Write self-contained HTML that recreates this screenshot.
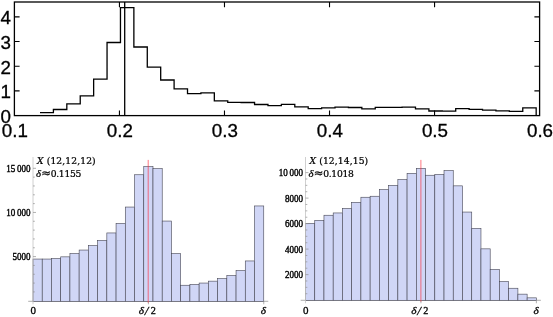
<!DOCTYPE html>
<html><head><meta charset="utf-8"><title>Histograms</title>
<style>html,body{margin:0;padding:0;background:#fff}svg{display:block}</style></head>
<body><svg width="553" height="317" viewBox="0 0 553 317">
<rect width="553" height="317" fill="#fff"/>
<path d="M40.00,112.70 H53.41 V109.50 H66.82 V103.80 H80.23 V95.80 H93.64 V79.10 H107.05 V42.50 H120.46 V7.60 H133.87 V47.00 H147.28 V67.20 H160.69 V80.00 H174.10 V88.90 H187.51 V93.60 H200.92 V92.80 H214.33 V100.90 H227.74 V102.30 H241.15 V102.50 H254.56 V104.50 H267.97 V105.60 H281.38 V104.30 H294.79 V106.90 H308.20 V108.60 H321.61 V107.80 H335.02 V107.10 H348.43 V107.50 H361.84 V108.90 H375.25 V107.30 H388.66 V107.30 H402.07 V107.10 H415.48 V108.80 H428.89 V111.00 H442.30 V111.20 H455.71 V108.60 H469.12 V109.30 H482.53 V110.10 H495.94 V110.80 H509.35 V111.30 H522.76 V107.80 H536.17 V115.60" fill="none" stroke="#000" stroke-width="1.3" stroke-linejoin="miter"/>
<rect x="14.4" y="2.0" width="525.2" height="113.6" fill="none" stroke="#000" stroke-width="1.3"/>
<path d="M124.7,2.0 V115.6" stroke="#000" stroke-width="1.3" fill="none"/>
<path d="M119.44,115.6 v-5.2 M119.44,2.0 v5.2 M224.48,115.6 v-5.2 M224.48,2.0 v5.2 M329.52,115.6 v-5.2 M329.52,2.0 v5.2 M434.56,115.6 v-5.2 M434.56,2.0 v5.2 M14.4,90.92 h5.2 M539.6,90.92 h-5.2 M14.4,66.24 h5.2 M539.6,66.24 h-5.2 M14.4,41.56 h5.2 M539.6,41.56 h-5.2 M14.4,16.88 h5.2 M539.6,16.88 h-5.2" stroke="#000" stroke-width="1.1" fill="none"/>
<g font-family="'Liberation Sans', sans-serif" font-size="18.8" fill="#000" stroke="#000" stroke-width="0.3"><text x="14.80" y="137.4" text-anchor="middle">0.1</text><text x="119.84" y="137.4" text-anchor="middle">0.2</text><text x="224.88" y="137.4" text-anchor="middle">0.3</text><text x="329.92" y="137.4" text-anchor="middle">0.4</text><text x="434.96" y="137.4" text-anchor="middle">0.5</text><text x="540.00" y="137.4" text-anchor="middle">0.6</text><text x="11.0" y="123.20" text-anchor="end">0</text><text x="11.0" y="98.45" text-anchor="end">1</text><text x="11.0" y="73.70" text-anchor="end">2</text><text x="11.0" y="48.95" text-anchor="end">3</text><text x="11.0" y="24.20" text-anchor="end">4</text></g>
<path d="M28.20,301.3 H268.25" stroke="#9a9a9a" stroke-width="0.8" fill="none"/><rect x="33.00" y="259.05" width="9.23" height="42.25" fill="#d0d6f6" stroke="#484856" stroke-width="0.62"/><rect x="42.23" y="259.05" width="9.23" height="42.25" fill="#d0d6f6" stroke="#484856" stroke-width="0.62"/><rect x="51.46" y="258.55" width="9.23" height="42.75" fill="#d0d6f6" stroke="#484856" stroke-width="0.62"/><rect x="60.69" y="256.85" width="9.23" height="44.45" fill="#d0d6f6" stroke="#484856" stroke-width="0.62"/><rect x="69.92" y="253.55" width="9.23" height="47.75" fill="#d0d6f6" stroke="#484856" stroke-width="0.62"/><rect x="79.15" y="250.05" width="9.23" height="51.25" fill="#d0d6f6" stroke="#484856" stroke-width="0.62"/><rect x="88.38" y="245.65" width="9.23" height="55.65" fill="#d0d6f6" stroke="#484856" stroke-width="0.62"/><rect x="97.61" y="240.45" width="9.23" height="60.85" fill="#d0d6f6" stroke="#484856" stroke-width="0.62"/><rect x="106.84" y="232.95" width="9.23" height="68.35" fill="#d0d6f6" stroke="#484856" stroke-width="0.62"/><rect x="116.07" y="223.45" width="9.23" height="77.85" fill="#d0d6f6" stroke="#484856" stroke-width="0.62"/><rect x="125.30" y="207.05" width="9.23" height="94.25" fill="#d0d6f6" stroke="#484856" stroke-width="0.62"/><rect x="134.53" y="174.75" width="9.23" height="126.55" fill="#d0d6f6" stroke="#484856" stroke-width="0.62"/><rect x="143.76" y="166.65" width="9.23" height="134.65" fill="#d0d6f6" stroke="#484856" stroke-width="0.62"/><rect x="152.99" y="168.65" width="9.23" height="132.65" fill="#d0d6f6" stroke="#484856" stroke-width="0.62"/><rect x="162.22" y="221.05" width="9.23" height="80.25" fill="#d0d6f6" stroke="#484856" stroke-width="0.62"/><rect x="171.45" y="253.55" width="9.23" height="47.75" fill="#d0d6f6" stroke="#484856" stroke-width="0.62"/><rect x="180.68" y="285.25" width="9.23" height="16.05" fill="#d0d6f6" stroke="#484856" stroke-width="0.62"/><rect x="189.91" y="284.45" width="9.23" height="16.85" fill="#d0d6f6" stroke="#484856" stroke-width="0.62"/><rect x="199.14" y="283.05" width="9.23" height="18.25" fill="#d0d6f6" stroke="#484856" stroke-width="0.62"/><rect x="208.37" y="281.15" width="9.23" height="20.15" fill="#d0d6f6" stroke="#484856" stroke-width="0.62"/><rect x="217.60" y="278.65" width="9.23" height="22.65" fill="#d0d6f6" stroke="#484856" stroke-width="0.62"/><rect x="226.83" y="275.55" width="9.23" height="25.75" fill="#d0d6f6" stroke="#484856" stroke-width="0.62"/><rect x="236.06" y="270.65" width="9.23" height="30.65" fill="#d0d6f6" stroke="#484856" stroke-width="0.62"/><rect x="245.29" y="260.95" width="9.23" height="40.35" fill="#d0d6f6" stroke="#484856" stroke-width="0.62"/><rect x="254.52" y="205.95" width="9.23" height="95.35" fill="#d0d6f6" stroke="#484856" stroke-width="0.62"/><path d="M33.00,304.3 V157" stroke="#c4c4c4" stroke-width="0.8" fill="none"/><path d="M33.00,256.60 h3 M33.00,212.45 h3 M33.00,168.30 h3 M33.00,291.92 h1.8 M33.00,283.09 h1.8 M33.00,274.26 h1.8 M33.00,265.43 h1.8 M33.00,247.77 h1.8 M33.00,238.94 h1.8 M33.00,230.11 h1.8 M33.00,221.28 h1.8 M33.00,203.62 h1.8 M33.00,194.79 h1.8 M33.00,185.96 h1.8 M33.00,177.13 h1.8 M148.38,301.3 v3 M263.75,301.3 v3" stroke="#909090" stroke-width="0.7" fill="none"/><path d="M148.2,159.9 V302.7" stroke="#ff2c3c" stroke-width="0.65" fill="none"/><g font-family="'Liberation Serif', serif" font-size="10.3" fill="#000" stroke="#000" stroke-width="0.4"><text transform="translate(30.60,260.35) scale(0.88,1)" text-anchor="end">5000</text><text transform="translate(30.60,216.20) scale(0.88,1)" text-anchor="end">10 000</text><text transform="translate(30.60,172.05) scale(0.88,1)" text-anchor="end">15 000</text></g><g font-family="'Liberation Serif', serif" font-size="11" fill="#000" stroke="#000" stroke-width="0.3"><text x="33.20" y="314.1" text-anchor="middle">0</text><text y="314"><tspan x="138.68" font-style="italic" font-size="11.3">δ</tspan><tspan x="144.78" dy="0.9" font-style="italic" font-size="13">/</tspan><tspan x="150.78" dy="-0.9" font-size="10.2">2</tspan></text><text x="263.45" y="314" text-anchor="middle" font-style="italic" font-size="11.3">δ</text></g><g font-family="'DejaVu Serif', serif" font-size="9.2" fill="#000" stroke="#000" stroke-width="0.24"><text x="37.10" y="164.2" textLength="58.6" lengthAdjust="spacing"><tspan font-style="italic">X</tspan> (12,12,12)</text><text y="176.6"><tspan x="35.90" font-family="'Liberation Serif', serif" font-style="italic" font-size="10.8">δ</tspan><tspan x="41.20" dy="0.5" font-size="11.5">≈</tspan><tspan x="50.70" dy="-0.5" letter-spacing="-0.3">0.1155</tspan></text></g>
<path d="M300.70,300.3 H540.88" stroke="#9a9a9a" stroke-width="0.8" fill="none"/><rect x="305.50" y="223.35" width="9.23" height="76.95" fill="#d0d6f6" stroke="#484856" stroke-width="0.62"/><rect x="314.74" y="220.35" width="9.23" height="79.95" fill="#d0d6f6" stroke="#484856" stroke-width="0.62"/><rect x="323.97" y="215.25" width="9.23" height="85.05" fill="#d0d6f6" stroke="#484856" stroke-width="0.62"/><rect x="333.20" y="212.95" width="9.23" height="87.35" fill="#d0d6f6" stroke="#484856" stroke-width="0.62"/><rect x="342.44" y="208.45" width="9.23" height="91.85" fill="#d0d6f6" stroke="#484856" stroke-width="0.62"/><rect x="351.68" y="202.35" width="9.23" height="97.95" fill="#d0d6f6" stroke="#484856" stroke-width="0.62"/><rect x="360.91" y="197.25" width="9.23" height="103.05" fill="#d0d6f6" stroke="#484856" stroke-width="0.62"/><rect x="370.14" y="196.25" width="9.23" height="104.05" fill="#d0d6f6" stroke="#484856" stroke-width="0.62"/><rect x="379.38" y="189.65" width="9.23" height="110.65" fill="#d0d6f6" stroke="#484856" stroke-width="0.62"/><rect x="388.62" y="185.35" width="9.23" height="114.95" fill="#d0d6f6" stroke="#484856" stroke-width="0.62"/><rect x="397.85" y="179.55" width="9.23" height="120.75" fill="#d0d6f6" stroke="#484856" stroke-width="0.62"/><rect x="407.08" y="173.35" width="9.23" height="126.95" fill="#d0d6f6" stroke="#484856" stroke-width="0.62"/><rect x="416.32" y="168.35" width="9.23" height="131.95" fill="#d0d6f6" stroke="#484856" stroke-width="0.62"/><rect x="425.56" y="175.25" width="9.23" height="125.05" fill="#d0d6f6" stroke="#484856" stroke-width="0.62"/><rect x="434.79" y="174.45" width="9.23" height="125.85" fill="#d0d6f6" stroke="#484856" stroke-width="0.62"/><rect x="444.02" y="170.65" width="9.23" height="129.65" fill="#d0d6f6" stroke="#484856" stroke-width="0.62"/><rect x="453.26" y="185.85" width="9.23" height="114.45" fill="#d0d6f6" stroke="#484856" stroke-width="0.62"/><rect x="462.50" y="212.05" width="9.23" height="88.25" fill="#d0d6f6" stroke="#484856" stroke-width="0.62"/><rect x="471.73" y="228.35" width="9.23" height="71.95" fill="#d0d6f6" stroke="#484856" stroke-width="0.62"/><rect x="480.96" y="248.85" width="9.23" height="51.45" fill="#d0d6f6" stroke="#484856" stroke-width="0.62"/><rect x="490.20" y="269.45" width="9.23" height="30.85" fill="#d0d6f6" stroke="#484856" stroke-width="0.62"/><rect x="499.44" y="281.55" width="9.23" height="18.75" fill="#d0d6f6" stroke="#484856" stroke-width="0.62"/><rect x="508.67" y="288.25" width="9.23" height="12.05" fill="#d0d6f6" stroke="#484856" stroke-width="0.62"/><rect x="517.90" y="294.15" width="9.23" height="6.15" fill="#d0d6f6" stroke="#484856" stroke-width="0.62"/><rect x="527.14" y="297.85" width="9.23" height="2.45" fill="#d0d6f6" stroke="#484856" stroke-width="0.62"/><path d="M305.50,303.3 V157" stroke="#c4c4c4" stroke-width="0.8" fill="none"/><path d="M305.50,274.60 h3 M305.50,249.10 h3 M305.50,223.60 h3 M305.50,198.10 h3 M305.50,172.60 h3 M305.50,293.73 h1.8 M305.50,287.35 h1.8 M305.50,280.98 h1.8 M305.50,268.23 h1.8 M305.50,261.85 h1.8 M305.50,255.48 h1.8 M305.50,242.73 h1.8 M305.50,236.35 h1.8 M305.50,229.98 h1.8 M305.50,217.23 h1.8 M305.50,210.85 h1.8 M305.50,204.48 h1.8 M305.50,191.73 h1.8 M305.50,185.35 h1.8 M305.50,178.98 h1.8 M420.94,300.3 v3 M536.38,300.3 v3" stroke="#909090" stroke-width="0.7" fill="none"/><path d="M420.9,159.9 V301.7" stroke="#ff2c3c" stroke-width="0.65" fill="none"/><g font-family="'Liberation Serif', serif" font-size="10.3" fill="#000" stroke="#000" stroke-width="0.4"><text transform="translate(303.10,278.35) scale(0.88,1)" text-anchor="end">2000</text><text transform="translate(303.10,252.85) scale(0.88,1)" text-anchor="end">4000</text><text transform="translate(303.10,227.35) scale(0.88,1)" text-anchor="end">6000</text><text transform="translate(303.10,201.85) scale(0.88,1)" text-anchor="end">8000</text><text transform="translate(303.10,176.35) scale(0.88,1)" text-anchor="end">10 000</text></g><g font-family="'Liberation Serif', serif" font-size="11" fill="#000" stroke="#000" stroke-width="0.3"><text x="305.70" y="314.1" text-anchor="middle">0</text><text y="314"><tspan x="411.24" font-style="italic" font-size="11.3">δ</tspan><tspan x="417.34" dy="0.9" font-style="italic" font-size="13">/</tspan><tspan x="423.34" dy="-0.9" font-size="10.2">2</tspan></text><text x="536.08" y="314" text-anchor="middle" font-style="italic" font-size="11.3">δ</text></g><g font-family="'DejaVu Serif', serif" font-size="9.2" fill="#000" stroke="#000" stroke-width="0.24"><text x="309.60" y="164.2" textLength="58.6" lengthAdjust="spacing"><tspan font-style="italic">X</tspan> (12,14,15)</text><text y="176.6"><tspan x="308.40" font-family="'Liberation Serif', serif" font-style="italic" font-size="10.8">δ</tspan><tspan x="313.70" dy="0.5" font-size="11.5">≈</tspan><tspan x="323.20" dy="-0.5" letter-spacing="-0.3">0.1018</tspan></text></g>
</svg></body></html>
